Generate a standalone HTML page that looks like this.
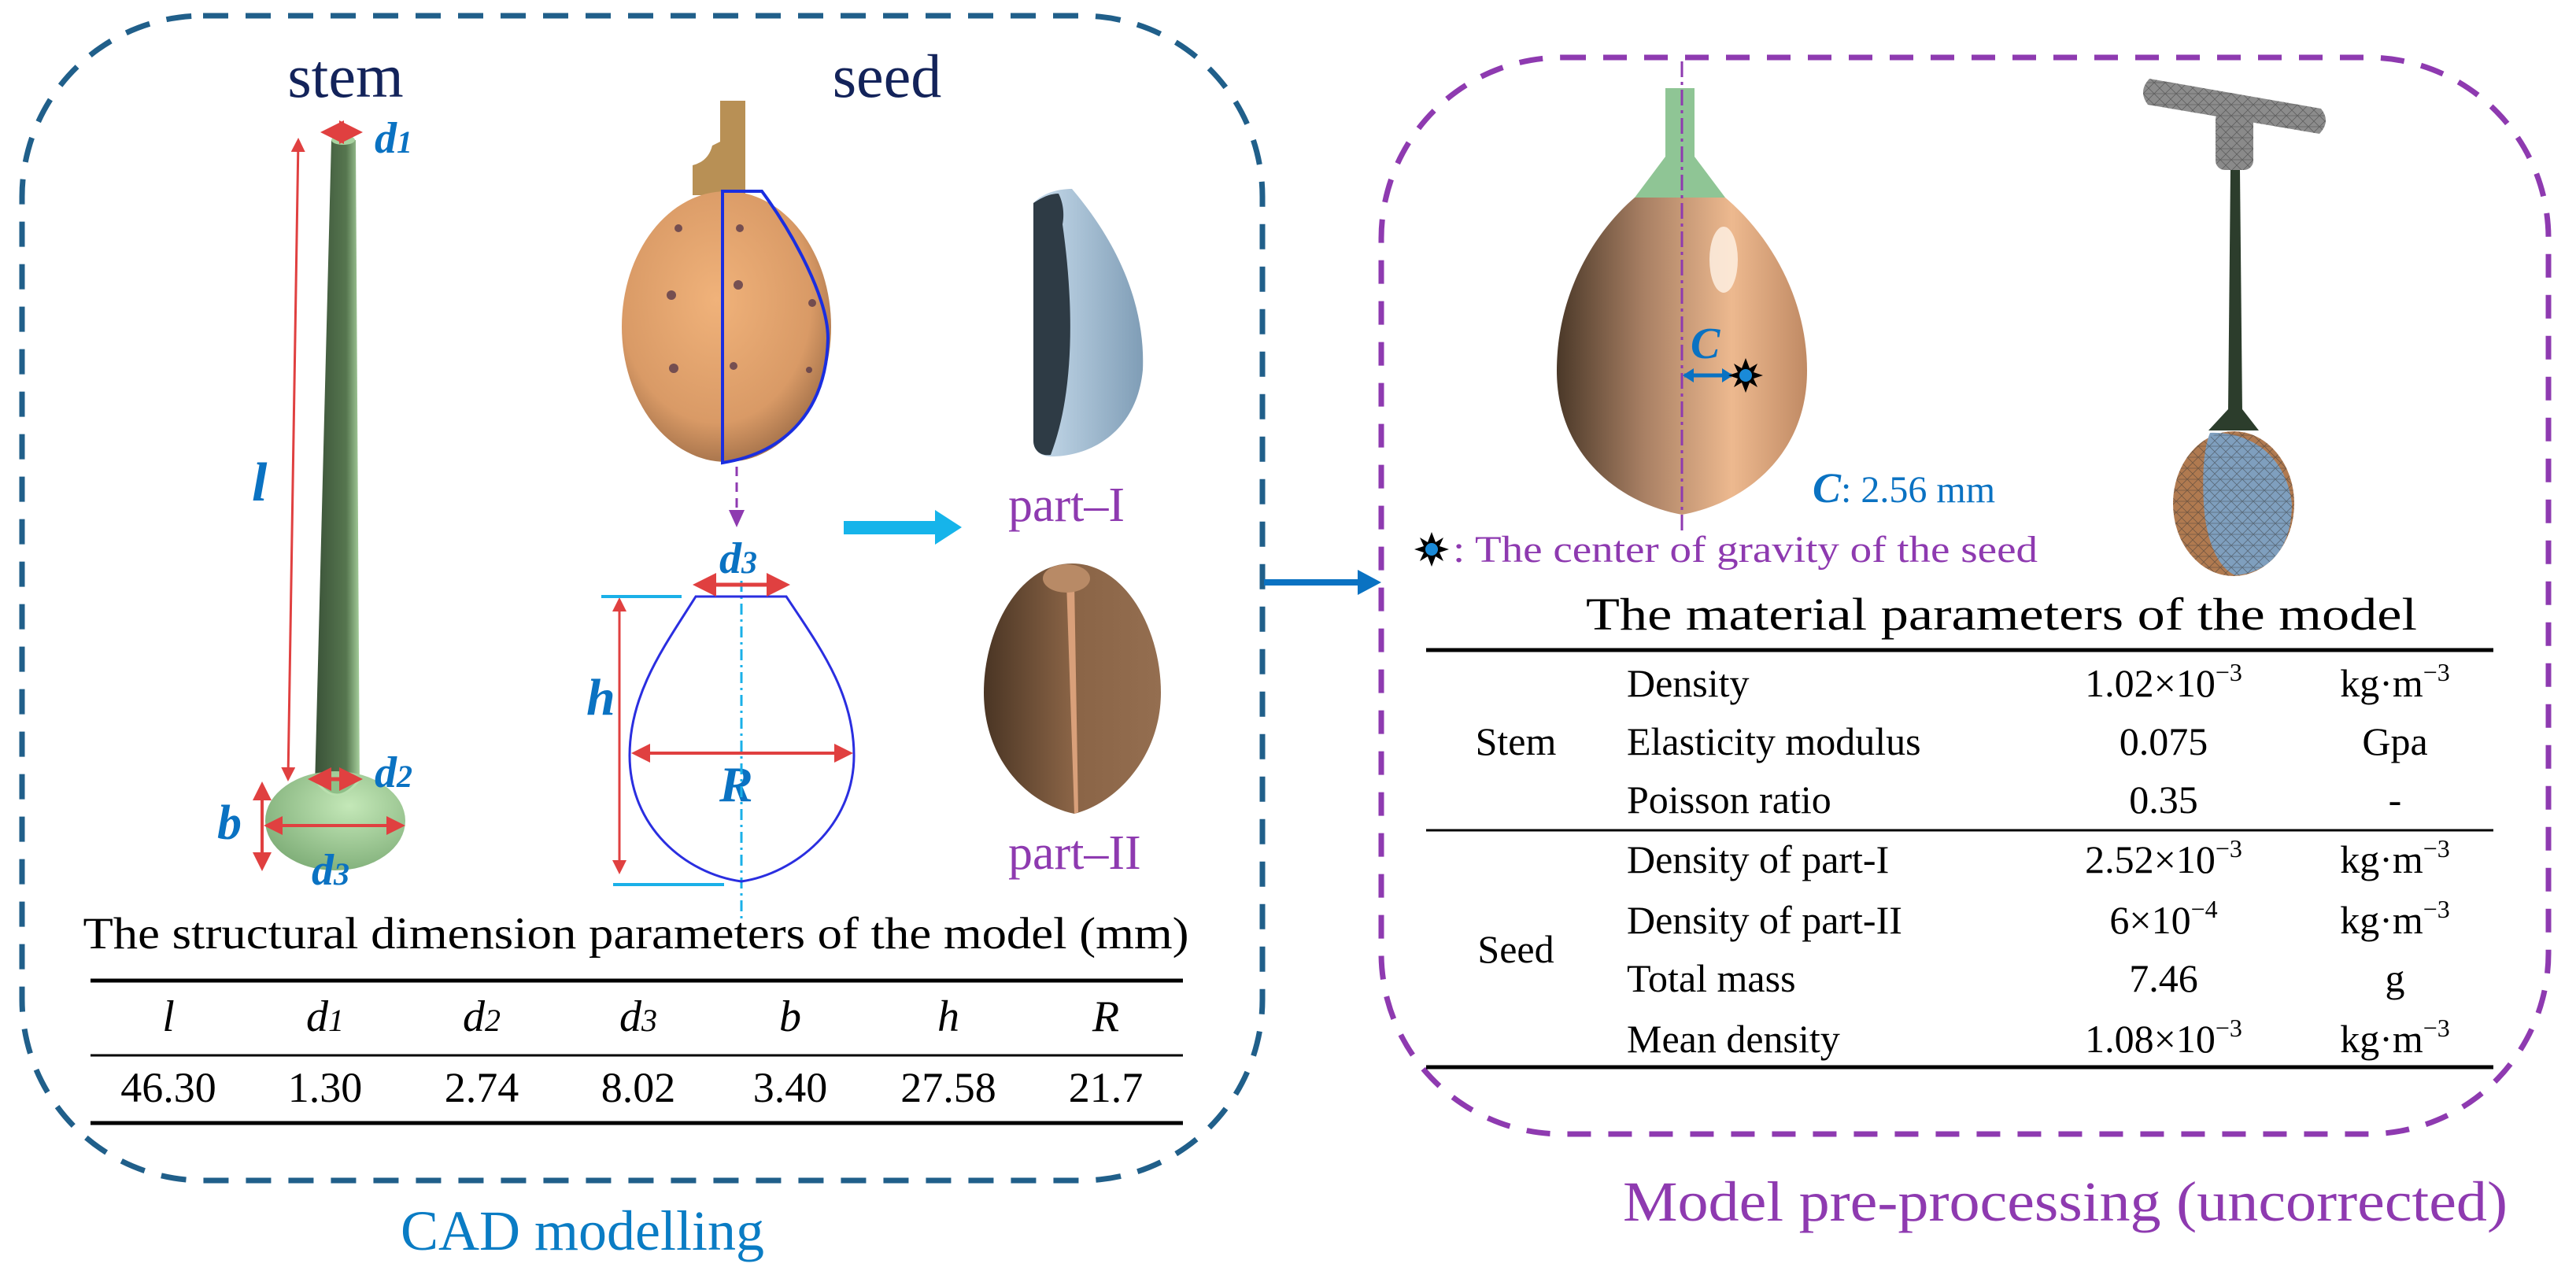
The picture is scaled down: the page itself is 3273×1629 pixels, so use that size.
<!DOCTYPE html>
<html><head><meta charset="utf-8"><style>
html,body{margin:0;padding:0;background:#fff;}
svg{display:block;}
text{font-family:"Liberation Serif",serif;}
</style></head><body>
<svg width="3273" height="1629" viewBox="0 0 3273 1629" xmlns="http://www.w3.org/2000/svg">
<defs>
<linearGradient id="stemG" x1="0" x2="1" y1="0" y2="0">
<stop offset="0" stop-color="#3a5238"/><stop offset="0.7" stop-color="#56764f"/><stop offset="1" stop-color="#a6cf9c"/></linearGradient>
<radialGradient id="bulbG" cx="0.6" cy="0.35" r="0.7"><stop offset="0" stop-color="#c4e8b8"/><stop offset="1" stop-color="#7fae78"/></radialGradient>
<radialGradient id="photoG" cx="0.45" cy="0.4" r="0.65"><stop offset="0" stop-color="#f0b27a"/><stop offset="0.7" stop-color="#d99a66"/><stop offset="1" stop-color="#9a6a45"/></radialGradient>
<linearGradient id="p1G" x1="0" x2="1"><stop offset="0" stop-color="#c8dcec"/><stop offset="1" stop-color="#7f9db6"/></linearGradient>
<linearGradient id="p2G" x1="0" x2="1"><stop offset="0" stop-color="#4a3524"/><stop offset="0.5" stop-color="#8a6446"/><stop offset="1" stop-color="#946e50"/></linearGradient>
<linearGradient id="bodyG" x1="0" x2="1"><stop offset="0" stop-color="#4a3828"/><stop offset="0.35" stop-color="#a98064"/><stop offset="0.7" stop-color="#edb98f"/><stop offset="1" stop-color="#c08a64"/></linearGradient>
<pattern id="mesh" width="14" height="14" patternUnits="userSpaceOnUse"><path d="M0 0L14 14M14 0L0 14M0 7H14" stroke="#333" stroke-width="0.8" opacity="0.5"/></pattern>
<marker id="redA" markerWidth="6" markerHeight="6" refX="5" refY="3" orient="auto-start-reverse" markerUnits="strokeWidth"><path d="M0,0L6,3L0,6Z" fill="#e04040"/></marker>
</defs>

<!-- LEFT BOX -->
<rect x="28" y="20" width="1576" height="1480" rx="230" ry="230" fill="none" stroke="#205f8a" stroke-width="7" stroke-dasharray="32 22"/>
<text x="439" y="123" font-size="78" fill="#13235a" text-anchor="middle">stem</text>
<text x="1127" y="123" font-size="78" fill="#13235a" text-anchor="middle">seed</text>

<!-- stem model -->
<polygon points="421,178 452,178 457,1000 400,1000" fill="url(#stemG)"/>
<ellipse cx="436" cy="178" rx="15" ry="6" fill="#a8d3a0"/>
<ellipse cx="426" cy="1043" rx="89" ry="63" fill="url(#bulbG)"/>
<path d="M400,990 Q428,1030 457,990" fill="#8fbf88" stroke="#b9dfae" stroke-width="3"/>
<line x1="379" y1="178" x2="366" y2="990" stroke="#e04040" stroke-width="3" marker-start="url(#redA)" marker-end="url(#redA)"/>
<line x1="412" y1="168" x2="456" y2="168" stroke="#e04040" stroke-width="5" marker-start="url(#redA)" marker-end="url(#redA)"/>
<line x1="396" y1="990" x2="456" y2="990" stroke="#e04040" stroke-width="5" marker-start="url(#redA)" marker-end="url(#redA)"/>
<line x1="333" y1="997" x2="333" y2="1103" stroke="#e04040" stroke-width="4" marker-start="url(#redA)" marker-end="url(#redA)"/>
<line x1="339" y1="1049" x2="511" y2="1049" stroke="#e04040" stroke-width="4" marker-start="url(#redA)" marker-end="url(#redA)"/>
<g fill="#0a72c2" font-style="italic" font-weight="bold">
<text x="476" y="194" font-size="56">d<tspan font-size="40">1</tspan></text>
<text x="320" y="636" font-size="70">l</text>
<text x="476" y="1000" font-size="56">d<tspan font-size="40">2</tspan></text>
<text x="276" y="1066" font-size="62">b</text>
<text x="396" y="1124" font-size="56">d<tspan font-size="40">3</tspan></text>
<text x="914" y="728" font-size="56">d<tspan font-size="40">3</tspan></text>
<text x="745" y="908" font-size="66">h</text>
<text x="914" y="1018" font-size="64">R</text>
</g>

<!-- seed photo -->
<path d="M915,128 L947,128 L947,248 L880,248 L880,210 Q900,205 905,185 L915,180 Z" fill="#b89055"/>
<ellipse cx="923" cy="415" rx="133" ry="172" fill="url(#photoG)"/>
<g fill="#5a3a4a" opacity="0.8">
<circle cx="862" cy="290" r="5"/><circle cx="940" cy="290" r="5"/><circle cx="853" cy="375" r="6"/><circle cx="938" cy="362" r="6"/><circle cx="1032" cy="385" r="5"/><circle cx="856" cy="468" r="6"/><circle cx="932" cy="465" r="5"/><circle cx="1028" cy="470" r="4"/>
</g>
<path d="M918,243 L968,243 C1010,300 1052,380 1052,430 C1050,520 1000,575 918,588 Z" fill="none" stroke="#1a2ee0" stroke-width="4"/>
<line x1="936" y1="593" x2="936" y2="650" stroke="#8e3ab0" stroke-width="3" stroke-dasharray="12 8"/>
<path d="M926,648 L946,648 L936,670 Z" fill="#8e3ab0"/>

<!-- outline -->
<line x1="942" y1="738" x2="942" y2="1172" stroke="#1ab0e8" stroke-width="3" stroke-dasharray="14 6 3 6"/>
<path d="M884,758 L999,758 C1040,820 1085,880 1085,960 C1085,1050 1010,1110 942,1120 C870,1110 800,1050 800,960 C800,880 845,820 884,758 Z" fill="none" stroke="#2a2ee0" stroke-width="3"/>
<line x1="885" y1="743" x2="999" y2="743" stroke="#e04040" stroke-width="5" marker-start="url(#redA)" marker-end="url(#redA)"/>
<line x1="806" y1="957" x2="1080" y2="957" stroke="#e04040" stroke-width="4" marker-start="url(#redA)" marker-end="url(#redA)"/>
<line x1="787" y1="762" x2="787" y2="1108" stroke="#e04040" stroke-width="3" marker-start="url(#redA)" marker-end="url(#redA)"/>
<line x1="764" y1="758" x2="866" y2="758" stroke="#1ab0e8" stroke-width="4"/>
<line x1="779" y1="1124" x2="920" y2="1124" stroke="#1ab0e8" stroke-width="4"/>

<!-- cyan arrow -->
<rect x="1072" y="662" width="118" height="17" fill="#16b4ea"/>
<path d="M1188,648 L1222,670 L1188,692 Z" fill="#16b4ea"/>

<!-- part I -->
<path d="M1313,258 C1325,245 1345,240 1362,240 C1430,320 1455,400 1452,470 C1445,545 1390,580 1335,580 C1320,580 1313,570 1313,560 Z" fill="url(#p1G)"/>
<path d="M1313,258 C1325,250 1335,246 1345,246 C1352,260 1352,275 1350,285 C1365,390 1365,500 1335,578 C1322,580 1313,572 1313,560 Z" fill="#2e3b45"/>
<text x="1281" y="662" font-size="62" fill="#8e3ab0">part–I</text>

<!-- part II -->
<path d="M1362,716 C1430,716 1475,800 1475,880 C1475,960 1420,1020 1365,1034 C1300,1020 1250,960 1250,880 C1250,800 1295,716 1362,716 Z" fill="url(#p2G)"/>
<path d="M1355,740 L1365,740 L1370,1032 L1365,1034 Z" fill="#d9a07a"/>
<ellipse cx="1355" cy="735" rx="30" ry="18" fill="#b88a66"/>
<text x="1281" y="1104" font-size="62" fill="#8e3ab0">part–II</text>

<!-- left table -->
<text x="808" y="1205" font-size="57" fill="#000" text-anchor="middle" textLength="1405" lengthAdjust="spacingAndGlyphs">The structural dimension parameters of the model (mm)</text>
<line x1="115" y1="1246" x2="1503" y2="1246" stroke="#000" stroke-width="5"/>
<line x1="115" y1="1341" x2="1503" y2="1341" stroke="#000" stroke-width="3"/>
<line x1="115" y1="1427" x2="1503" y2="1427" stroke="#000" stroke-width="5"/>
<g font-size="56" font-style="italic" text-anchor="middle" fill="#000">
<text x="214" y="1310">l</text><text x="413" y="1310">d<tspan font-size="40">1</tspan></text><text x="612" y="1310">d<tspan font-size="40">2</tspan></text><text x="811" y="1310">d<tspan font-size="40">3</tspan></text><text x="1004" y="1310">b</text><text x="1205" y="1310">h</text><text x="1405" y="1310">R</text>
</g>
<g font-size="54" text-anchor="middle" fill="#000">
<text x="214" y="1400">46.30</text><text x="413" y="1400">1.30</text><text x="612" y="1400">2.74</text><text x="811" y="1400">8.02</text><text x="1004" y="1400">3.40</text><text x="1205" y="1400">27.58</text><text x="1405" y="1400">21.7</text>
</g>
<text x="740" y="1588" font-size="72" fill="#0a7cc4" text-anchor="middle">CAD modelling</text>

<!-- connector -->
<line x1="1606" y1="740" x2="1730" y2="740" stroke="#0a72c2" stroke-width="8"/>
<path d="M1725,724 L1755,740 L1725,756 Z" fill="#0a72c2"/>

<!-- RIGHT BOX -->
<rect x="1755" y="73" width="1483" height="1368" rx="230" ry="230" fill="none" stroke="#8e3ab0" stroke-width="7" stroke-dasharray="30 22"/>

<!-- fruit model -->
<rect x="2116" y="112" width="37" height="90" fill="#8fc595"/>
<path d="M2116,199 L2153,199 L2192,251 L2077,251 Z" fill="#8fc595"/>
<path d="M2077,251 C2020,300 1978,380 1978,471 C1978,580 2060,640 2137,654 C2215,640 2296,580 2296,471 C2296,380 2250,300 2192,251 Z" fill="url(#bodyG)"/>
<ellipse cx="2190" cy="330" rx="18" ry="42" fill="#fff3e6" opacity="0.8"/>
<line x1="2137" y1="78" x2="2137" y2="680" stroke="#8e3ab0" stroke-width="3" stroke-dasharray="20 6 4 6"/>
<text x="2148" y="455" font-size="56" font-style="italic" font-weight="bold" fill="#0a72c2">C</text>
<line x1="2140" y1="477" x2="2200" y2="477" stroke="#0a72c2" stroke-width="5"/>
<path d="M2138,477 L2152,468 L2152,486 Z M2202,477 L2188,468 L2188,486 Z" fill="#0a72c2"/>
<g transform="translate(2218,477)">
<polygon points="0,-22 5,-9 15,-15 10,-4 22,0 10,4 15,15 5,9 0,22 -5,9 -15,15 -10,4 -22,0 -10,-4 -15,-15 -5,-9" fill="#000"/>
<circle r="8" fill="#1a8ad8"/></g>
<text x="2303" y="638" font-size="48" fill="#0a72c2"><tspan font-style="italic" font-weight="bold" font-size="54">C</tspan>: 2.56 mm</text>
<g transform="translate(1819,698)">
<polygon points="0,-22 5,-9 15,-15 10,-4 22,0 10,4 15,15 5,9 0,22 -5,9 -15,15 -10,4 -22,0 -10,-4 -15,-15 -5,-9" fill="#000"/>
<circle r="8" fill="#1a8ad8"/></g>
<text x="1846" y="714" font-size="48" fill="#8e3ab0" textLength="743" lengthAdjust="spacingAndGlyphs">: The center of gravity of the seed</text>

<!-- mesh model -->
<path d="M2731,100 L2949,138 Q2962,154 2947,170 L2729,133 Q2716,116 2731,100 Z" fill="#8c8c8c"/>
<path d="M2731,100 L2949,138 Q2962,154 2947,170 L2729,133 Q2716,116 2731,100 Z" fill="url(#mesh)"/>
<rect x="2815" y="140" width="48" height="76" rx="12" fill="#8a8a8a"/>
<rect x="2815" y="140" width="48" height="76" rx="12" fill="url(#mesh)"/>
<polygon points="2834,216 2846,216 2849,524 2831,524" fill="#2c3d2c"/>
<path d="M2831,520 L2849,520 L2870,547 L2806,547 Z" fill="#2c3d2c"/>
<ellipse cx="2838" cy="640" rx="77" ry="92" fill="#b07a50"/>
<path d="M2808,550 C2860,548 2905,580 2912,640 C2912,700 2880,728 2840,731 C2815,720 2802,680 2800,640 C2798,600 2800,570 2808,550 Z" fill="#7f9fbe"/>
<ellipse cx="2838" cy="640" rx="77" ry="92" fill="url(#mesh)"/>

<!-- right table -->
<text x="2543" y="800" font-size="58" fill="#000" text-anchor="middle" textLength="1056" lengthAdjust="spacingAndGlyphs">The material parameters of the model</text>
<line x1="1812" y1="826" x2="3168" y2="826" stroke="#000" stroke-width="5"/>
<line x1="1812" y1="1055" x2="3168" y2="1055" stroke="#000" stroke-width="3"/>
<line x1="1812" y1="1356" x2="3168" y2="1356" stroke="#000" stroke-width="5"/>
<g font-size="50" fill="#000">
<text x="1926" y="959" text-anchor="middle">Stem</text>
<text x="1926" y="1223" text-anchor="middle">Seed</text>
<text x="2067" y="885">Density</text>
<text x="2067" y="959">Elasticity modulus</text>
<text x="2067" y="1033">Poisson ratio</text>
<text x="2067" y="1109">Density of part-I</text>
<text x="2067" y="1186">Density of part-II</text>
<text x="2067" y="1260">Total mass</text>
<text x="2067" y="1337">Mean density</text>
<g text-anchor="middle">
<text x="2749" y="885">1.02×10<tspan font-size="32" dy="-20">−3</tspan></text>
<text x="2749" y="959">0.075</text>
<text x="2749" y="1033">0.35</text>
<text x="2749" y="1109">2.52×10<tspan font-size="32" dy="-20">−3</tspan></text>
<text x="2749" y="1186">6×10<tspan font-size="32" dy="-20">−4</tspan></text>
<text x="2749" y="1260">7.46</text>
<text x="2749" y="1337">1.08×10<tspan font-size="32" dy="-20">−3</tspan></text>
<text x="3043" y="885">kg·m<tspan font-size="32" dy="-20">−3</tspan></text>
<text x="3043" y="959">Gpa</text>
<text x="3043" y="1033">-</text>
<text x="3043" y="1109">kg·m<tspan font-size="32" dy="-20">−3</tspan></text>
<text x="3043" y="1186">kg·m<tspan font-size="32" dy="-20">−3</tspan></text>
<text x="3043" y="1260">g</text>
<text x="3043" y="1337">kg·m<tspan font-size="32" dy="-20">−3</tspan></text>
</g></g>
<text x="2624" y="1551" font-size="72" fill="#8e3ab0" text-anchor="middle" textLength="1124" lengthAdjust="spacingAndGlyphs">Model pre-processing (uncorrected)</text>
</svg>
</body></html>
